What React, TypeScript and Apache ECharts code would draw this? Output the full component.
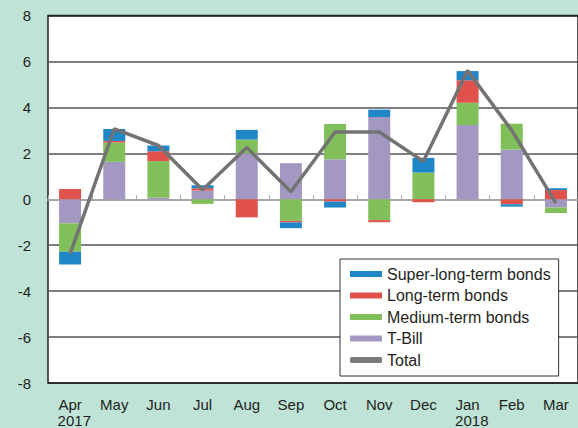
import React, { useEffect, useRef } from "react";
import * as echarts from "echarts";

const categories = ["Apr", "May", "Jun", "Jul", "Aug", "Sep", "Oct", "Nov", "Dec", "Jan", "Feb", "Mar"];
const yearLabels: Record<string, string> = { Apr: "2017", Jan: "2018" };
const tBill = [-1.04, 1.63, 0.07, 0.38, 2.0, 1.57, 1.74, 3.58, 0, 3.23, 2.16, -0.36];
const mediumTerm = [-1.25, 0.84, 1.59, -0.2, 0.6, -0.94, 1.54, -0.91, 1.16, 0.97, 1.13, -0.24];
const longTerm = [0.45, 0.07, 0.43, 0.1, -0.79, -0.07, -0.1, -0.09, -0.13, 0.98, -0.22, 0.4];
const superLongTerm = [-0.55, 0.52, 0.25, 0.13, 0.42, -0.25, -0.26, 0.32, 0.64, 0.4, -0.1, 0.08];
const total = [-2.38, 3.06, 2.34, 0.41, 2.25, 0.33, 2.93, 2.93, 1.65, 5.6, 3.0, -0.17];

const FONT = "'Liberation Sans', Arial, sans-serif";
const TXT = "#231f20";

export default function App() {
  const ref = useRef<HTMLDivElement>(null);
  useEffect(() => {
    if (!ref.current) return;
    const chart = echarts.init(ref.current, null, { renderer: "svg" });
    const barCommon = {
      type: "bar" as const,
      stack: "bonds",
      barWidth: 22,
      xAxisIndex: 0,
      yAxisIndex: 0,
    };
    chart.setOption({
      animation: false,
      backgroundColor: "#bfe3d7",
      textStyle: { fontFamily: FONT },
      graphic: [
        {
          type: "text",
          left: 9,
          top: -18,
          style: {
            text: "(Trillions of yen)",
            fontSize: 16,
            fontFamily: FONT,
            fill: TXT,
          },
        },
        {
          type: "text",
          left: 134,
          top: -18,
          style: {
            text: "Monthly issuance change",
            fontSize: 16,
            fontWeight: "bold",
            fontFamily: FONT,
            fill: TXT,
          },
        },
      ],
      grid: {
        left: 48,
        top: 15.5,
        right: 0,
        bottom: 41.5,
        show: true,
        backgroundColor: "#ffffff",
        borderColor: "#222",
        borderWidth: 1.5,
      },
      legend: {
        orient: "vertical",
        left: 340,
        top: 259,
        backgroundColor: "#ffffff",
        borderColor: "#333",
        borderWidth: 1,
        borderRadius: 0,
        padding: [7, 8, 8, 10],
        itemWidth: 32,
        itemHeight: 6,
        itemGap: 5.5,
        selectedMode: false,
        textStyle: { fontSize: 16, lineHeight: 16, color: TXT, fontFamily: FONT },
        data: [
          { name: "Super-long-term bonds", icon: "rect" },
          { name: "Long-term bonds", icon: "rect" },
          { name: "Medium-term bonds", icon: "rect" },
          { name: "T-Bill", icon: "rect" },
          { name: "Total", icon: "roundRect" },
        ],
      },
      xAxis: [
        {
          type: "category",
          data: categories,
          position: "bottom",
          axisLine: { show: false, onZero: false },
          axisTick: { show: false },
          axisLabel: {
            interval: 0,
            margin: 13,
            fontSize: 15,
            color: TXT,
            lineHeight: 16,
            fontFamily: FONT,
            formatter: (v: string) => (yearLabels[v] ? `{a|${v}}\n{b|${yearLabels[v]}}` : v),
            rich: {
              a: { fontSize: 15, color: TXT, lineHeight: 16, fontFamily: FONT },
              b: { fontSize: 15, color: TXT, lineHeight: 16, fontFamily: FONT, padding: [0, 0, 0, 8.4] },
            },
          },
          splitLine: { show: false },
        },
        {
          type: "category",
          data: categories,
          position: "bottom",
          axisLine: { show: true, onZero: true, lineStyle: { color: "#a6a6a6", width: 2 } },
          axisTick: { show: true, interval: 0, inside: true, length: 4, lineStyle: { color: "#a6a6a6", width: 1 } },
          axisLabel: { show: false },
          splitLine: { show: false },
        },
      ],
      yAxis: {
        type: "value",
        min: -8,
        max: 8,
        interval: 2,
        axisLine: { show: false },
        axisTick: { show: false },
        axisLabel: { fontSize: 15, color: TXT, margin: 17, fontFamily: FONT },
        splitLine: {
          show: true,
          lineStyle: {
            color: ["#222", "#555", "#555", "#555", "#a6a6a6", "#555", "#555", "#555", "#222"],
            width: 1.5,
          },
        },
      },
      series: [
        { ...barCommon, name: "T-Bill", data: tBill, itemStyle: { color: "#a398c2" } },
        { ...barCommon, name: "Medium-term bonds", data: mediumTerm, itemStyle: { color: "#80bf5a" } },
        { ...barCommon, name: "Long-term bonds", data: longTerm, itemStyle: { color: "#e0524b" } },
        { ...barCommon, name: "Super-long-term bonds", data: superLongTerm, itemStyle: { color: "#1f86c8" } },
        {
          type: "line",
          name: "Total",
          data: total,
          xAxisIndex: 0,
          yAxisIndex: 0,
          showSymbol: false,
          symbol: "none",
          z: 10,
          lineStyle: { color: "#737373", width: 3.5 },
          itemStyle: { color: "#7a7a7a" },
        },
      ],
    });
    return () => chart.dispose();
  }, []);
  return (
    <div
      ref={ref}
      style={{ position: "fixed", left: 0, top: 0, width: 578, height: 428 }}
    />
  );
}
